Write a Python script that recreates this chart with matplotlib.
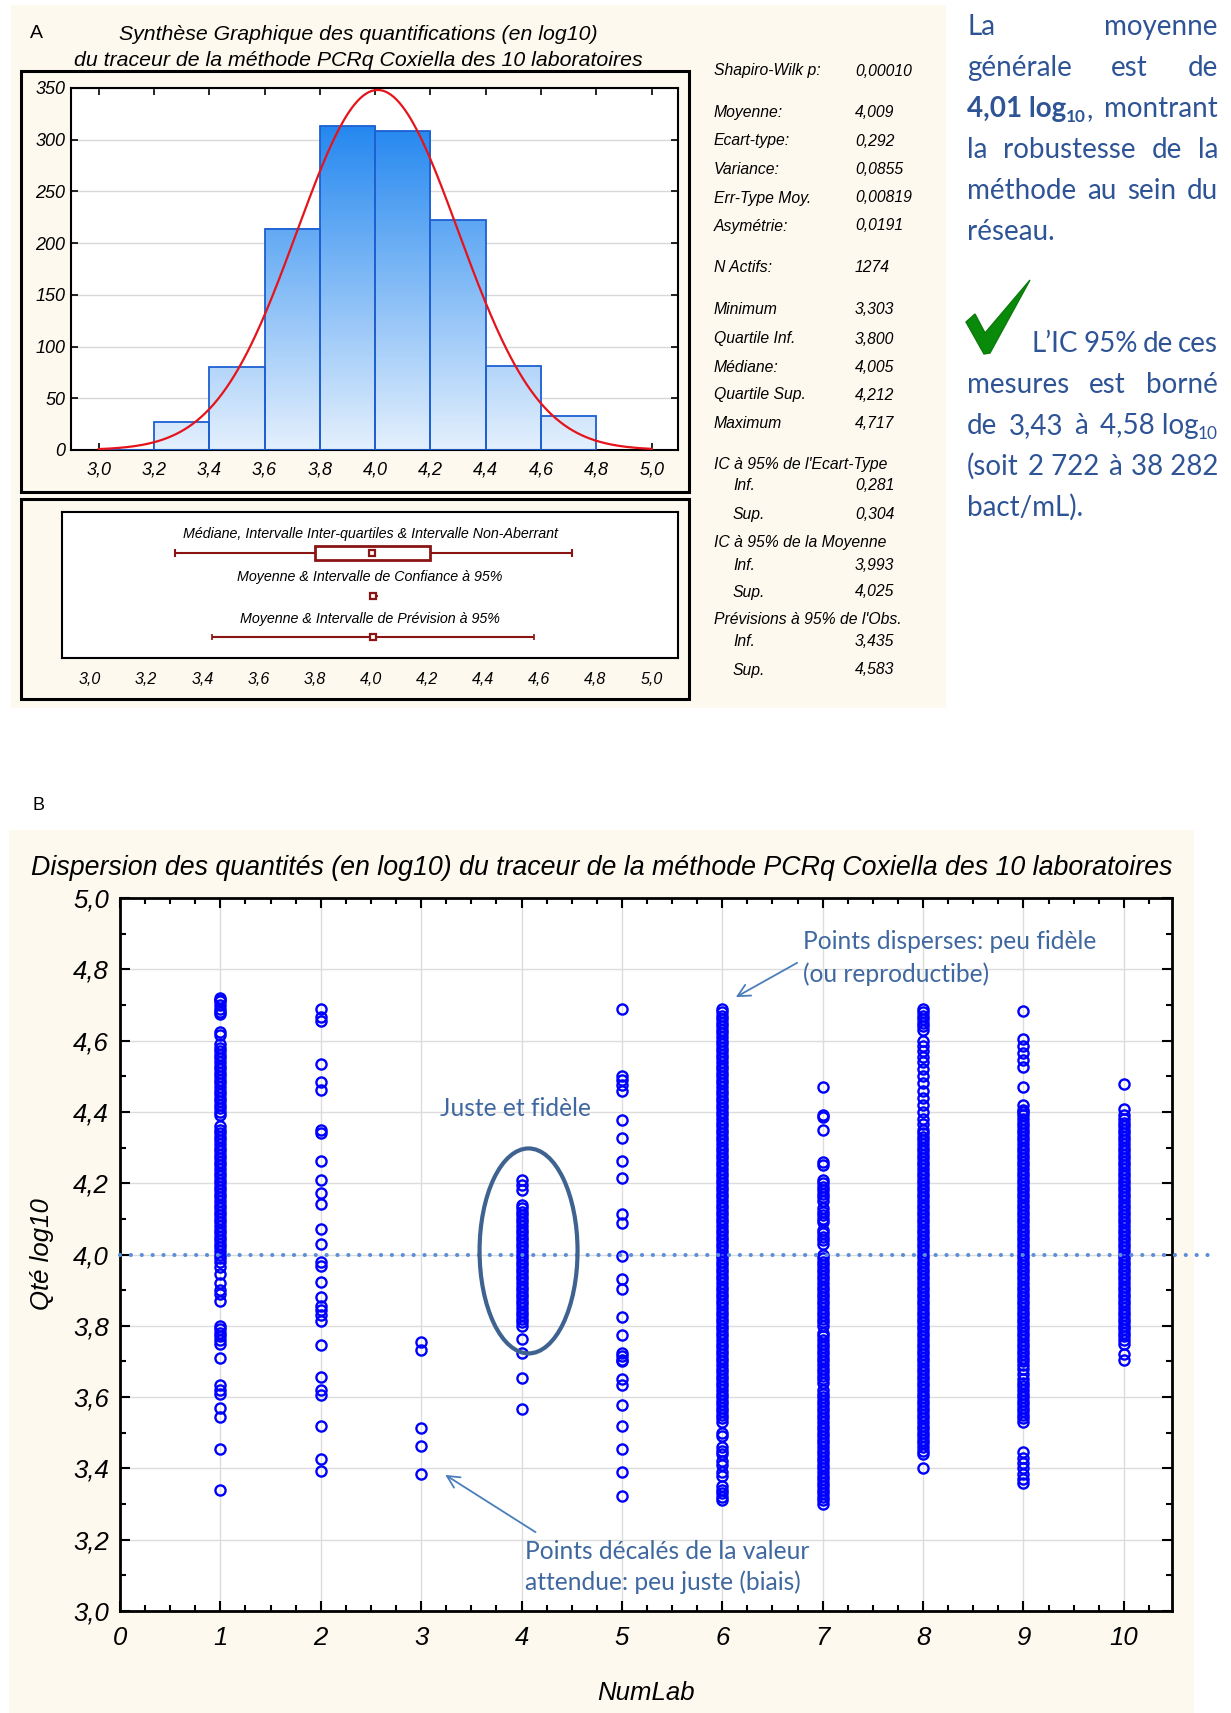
import numpy as np
import matplotlib
matplotlib.use("Agg")
import matplotlib.pyplot as plt
from matplotlib.patches import Rectangle, Ellipse, Polygon
from matplotlib.colors import LinearSegmentedColormap
from matplotlib.ticker import MultipleLocator

plt.rcParams['font.family'] = ['Liberation Sans', 'DejaVu Sans']

# ======================= DATA =======================
# Panel A - histogram
bin_left = [3.0, 3.2, 3.4, 3.6, 3.8, 4.0, 4.2, 4.4, 4.6]
bin_count = [0, 27, 80, 214, 313, 308, 222, 81, 33]
bin_width = 0.2
hist_xticks = [3.0, 3.2, 3.4, 3.6, 3.8, 4.0, 4.2, 4.4, 4.6, 4.8, 5.0]
hist_xlabels = ['3,0', '3,2', '3,4', '3,6', '3,8', '4,0', '4,2', '4,4', '4,6', '4,8', '5,0']
hist_yticks = [0, 50, 100, 150, 200, 250, 300, 350]
n_total = 1274
mean_all = 4.009
sd_all = 0.292

# Panel A - box summary
whisk_lo, q_inf, median, q_sup, whisk_hi = 3.303, 3.800, 4.005, 4.212, 4.717
ci_mean = (3.993, 4.025)
pi_obs = (3.435, 4.583)
box_titles = ['Médiane, Intervalle Inter-quartiles & Intervalle Non-Aberrant',
              'Moyenne & Intervalle de Confiance à 95%',
              'Moyenne & Intervalle de Prévision à 95%']

# Panel A - statistics
stat_labels = ['Shapiro-Wilk p:', 'Moyenne:', 'Ecart-type:', 'Variance:', 'Err-Type Moy.',
               'Asymétrie:', 'N Actifs:', 'Minimum', 'Quartile Inf.', 'Médiane:',
               'Quartile Sup.', 'Maximum', "IC à 95% de l'Ecart-Type", 'Inf.', 'Sup.',
               'IC à 95% de la Moyenne', 'Inf.', 'Sup.', "Prévisions à 95% de l'Obs.",
               'Inf.', 'Sup.']
stat_values = ['0,00010', '4,009', '0,292', '0,0855', '0,00819', '0,0191', '1274',
               '3,303', '3,800', '4,005', '4,212', '4,717', '', '0,281', '0,304',
               '', '3,993', '4,025', '', '3,435', '4,583']

# Panel B - scatter per laboratory
lab1 = [4.72, 4.715, 4.71, 4.70, 4.69, 4.68, 4.675, 4.625, 4.615,
        4.59, 4.58, 4.57, 4.56, 4.55, 4.54, 4.53, 4.52, 4.51, 4.50,
        4.49, 4.48, 4.47, 4.46, 4.45, 4.44, 4.43, 4.42, 4.41, 4.40, 4.39,
        4.36, 4.35, 4.34, 4.33, 4.32, 4.31, 4.30, 4.29, 4.28, 4.27,
        4.26, 4.25, 4.24, 4.23, 4.22, 4.21, 4.20, 4.19, 4.18, 4.17,
        4.16, 4.15, 4.14, 4.13, 4.12, 4.11, 4.10, 4.09, 4.08, 4.07,
        4.06, 4.05, 4.04, 4.03, 4.02, 4.01, 4.00, 3.99, 3.98, 3.965,
        3.945, 3.92, 3.90, 3.89, 3.87,
        3.80, 3.79, 3.78, 3.77, 3.76, 3.75, 3.71, 3.635, 3.62, 3.61,
        3.57, 3.545, 3.455, 3.34]
lab2 = [4.69, 4.665, 4.655, 4.533, 4.485, 4.462, 4.35, 4.34, 4.263, 4.208,
        4.172, 4.143, 4.072, 4.03, 3.978, 3.968, 3.923, 3.882, 3.855, 3.845,
        3.83, 3.813, 3.746, 3.655, 3.62, 3.605, 3.52, 3.427, 3.392]
lab3 = [3.755, 3.732, 3.512, 3.462, 3.385]
lab4 = [4.21, 4.195, 4.18, 4.14, 4.13, 4.12, 4.11, 4.10, 4.09, 4.08,
        4.07, 4.06, 4.05, 4.04, 4.03, 4.02, 4.01, 4.00, 3.99, 3.98,
        3.97, 3.96, 3.95, 3.94, 3.93, 3.92, 3.91, 3.90, 3.89, 3.88,
        3.87, 3.86, 3.85, 3.84, 3.83, 3.82, 3.81, 3.80, 3.762, 3.725,
        3.654, 3.568]
lab5 = [4.69, 4.50, 4.49, 4.475, 4.46, 4.377, 4.328, 4.263, 4.215, 4.115,
        4.088, 3.997, 3.93, 3.903, 3.825, 3.775, 3.725, 3.715, 3.705, 3.70,
        3.65, 3.635, 3.577, 3.52, 3.455, 3.39, 3.322]
lab6 = [4.69, 4.68, 4.67, 4.66, 4.65, 4.64, 4.63, 4.62, 4.61, 4.60,
        4.59, 4.58, 4.57, 4.56, 4.55, 4.54, 4.53, 4.52, 4.51, 4.50,
        4.49, 4.48, 4.47, 4.46, 4.45, 4.44, 4.43, 4.42, 4.41, 4.40,
        4.39, 4.38, 4.37, 4.36, 4.35, 4.34, 4.33, 4.32, 4.31, 4.30,
        4.29, 4.28, 4.27, 4.26, 4.25, 4.24, 4.23, 4.22, 4.21, 4.20,
        4.19, 4.18, 4.17, 4.16, 4.15, 4.14, 4.13, 4.12, 4.11, 4.10,
        4.09, 4.08, 4.07, 4.06, 4.05, 4.04, 4.03, 4.02, 4.01, 4.00,
        3.99, 3.98, 3.97, 3.96, 3.95, 3.94, 3.93, 3.92, 3.91, 3.90,
        3.89, 3.88, 3.87, 3.86, 3.85, 3.84, 3.83, 3.82, 3.81, 3.80,
        3.79, 3.78, 3.77, 3.76, 3.75, 3.74, 3.73, 3.72, 3.71, 3.70,
        3.69, 3.68, 3.67, 3.66, 3.65, 3.64, 3.63, 3.62, 3.61, 3.60,
        3.59, 3.58, 3.57, 3.56, 3.55, 3.54, 3.53,
        3.50, 3.49, 3.46, 3.45, 3.44, 3.42, 3.41, 3.39, 3.38, 3.35,
        3.34, 3.33, 3.32, 3.31]
lab7 = [4.47, 4.39, 4.385, 4.348, 4.26, 4.25, 4.21, 4.20, 4.19, 4.18,
        4.17, 4.16, 4.15, 4.13, 4.12, 4.11, 4.10, 4.09, 4.07, 4.06,
        4.05, 4.04, 4.03, 4.00, 3.99, 3.98, 3.97, 3.96, 3.95, 3.94,
        3.93, 3.92, 3.91, 3.90, 3.89, 3.88, 3.87, 3.86, 3.85, 3.84,
        3.83, 3.82, 3.81, 3.80, 3.78, 3.77, 3.76, 3.75, 3.74, 3.73,
        3.72, 3.71, 3.70, 3.69, 3.68, 3.67, 3.66, 3.65, 3.64, 3.62,
        3.61, 3.60, 3.59, 3.58, 3.57, 3.56, 3.55, 3.54, 3.53, 3.52,
        3.51, 3.50, 3.49, 3.48, 3.47, 3.46, 3.45, 3.44, 3.43, 3.42,
        3.41, 3.40, 3.39, 3.38, 3.37, 3.36, 3.35, 3.34, 3.33, 3.32,
        3.31, 3.30]
lab8 = [4.69, 4.68, 4.67, 4.66, 4.65, 4.64, 4.63, 4.60, 4.585, 4.57,
        4.555, 4.54, 4.52, 4.50, 4.48, 4.46, 4.44, 4.42, 4.40, 4.38,
        4.365, 4.35, 4.34, 4.33, 4.32, 4.31, 4.30, 4.29, 4.28, 4.27,
        4.26, 4.25, 4.24, 4.23, 4.22, 4.21, 4.20, 4.19, 4.18, 4.17,
        4.16, 4.15, 4.14, 4.13, 4.12, 4.11, 4.10, 4.09, 4.08, 4.07,
        4.06, 4.05, 4.04, 4.03, 4.02, 4.01, 4.00, 3.99, 3.98, 3.97,
        3.96, 3.95, 3.94, 3.93, 3.92, 3.91, 3.90, 3.89, 3.88, 3.87,
        3.86, 3.85, 3.84, 3.83, 3.82, 3.81, 3.80, 3.79, 3.78, 3.77,
        3.76, 3.75, 3.74, 3.73, 3.72, 3.71, 3.70, 3.69, 3.68, 3.67,
        3.66, 3.65, 3.64, 3.63, 3.62, 3.61, 3.60, 3.59, 3.58, 3.57,
        3.56, 3.55, 3.54, 3.53, 3.52, 3.51, 3.50, 3.49, 3.48, 3.47,
        3.46, 3.45, 3.44, 3.40]
lab9 = [4.682, 4.605, 4.585, 4.565, 4.545, 4.525, 4.47, 4.42, 4.405, 4.40,
        4.39, 4.38, 4.37, 4.36, 4.35, 4.34, 4.33, 4.32, 4.31, 4.30,
        4.29, 4.28, 4.27, 4.26, 4.25, 4.24, 4.23, 4.22, 4.21, 4.20,
        4.19, 4.18, 4.17, 4.16, 4.15, 4.14, 4.13, 4.12, 4.11, 4.10,
        4.09, 4.08, 4.07, 4.06, 4.05, 4.04, 4.03, 4.02, 4.01, 4.00,
        3.99, 3.98, 3.97, 3.96, 3.95, 3.94, 3.93, 3.92, 3.91, 3.90,
        3.89, 3.88, 3.87, 3.86, 3.85, 3.84, 3.83, 3.82, 3.81, 3.80,
        3.79, 3.78, 3.77, 3.76, 3.75, 3.74, 3.73, 3.72, 3.71, 3.70,
        3.69, 3.68, 3.665, 3.65, 3.64, 3.63, 3.62, 3.61, 3.60, 3.59,
        3.58, 3.57, 3.56, 3.55, 3.54, 3.53,
        3.445, 3.43, 3.415, 3.40, 3.385, 3.37, 3.36]
lab10 = [4.477, 4.407, 4.39, 4.38, 4.37, 4.36, 4.35, 4.34, 4.33, 4.32,
         4.31, 4.30, 4.29, 4.28, 4.27, 4.26, 4.25, 4.24, 4.23, 4.22,
         4.21, 4.20, 4.19, 4.18, 4.17, 4.16, 4.15, 4.14, 4.13, 4.12,
         4.11, 4.10, 4.09, 4.08, 4.07, 4.06, 4.05, 4.04, 4.03, 4.02,
         4.01, 4.00, 3.99, 3.98, 3.97, 3.96, 3.95, 3.94, 3.93, 3.92,
         3.91, 3.90, 3.89, 3.88, 3.87, 3.86, 3.85, 3.84, 3.83, 3.82,
         3.81, 3.80, 3.79, 3.78, 3.77, 3.76, 3.75, 3.72, 3.705]
labs = [lab1, lab2, lab3, lab4, lab5, lab6, lab7, lab8, lab9, lab10]
lab_ticks = [0, 1, 2, 3, 4, 5, 6, 7, 8, 9, 10]
qty_ticks = [3.0, 3.2, 3.4, 3.6, 3.8, 4.0, 4.2, 4.4, 4.6, 4.8, 5.0]
qty_labels = ['3,0', '3,2', '3,4', '3,6', '3,8', '4,0', '4,2', '4,4', '4,6', '4,8', '5,0']
reference_level = 4.0

# Right-hand commentary (tokens: (text, weight, subscript))
para1 = [
    [[('La', 'normal', False)], [('moyenne', 'normal', False)]],
    [[('générale', 'normal', False)], [('est', 'normal', False)], [('de', 'normal', False)]],
    [[('4,01 log', 'bold', False), ('10', 'bold', True), (',', 'normal', False)],
     [('montrant', 'normal', False)]],
    [[('la', 'normal', False)], [('robustesse', 'normal', False)], [('de', 'normal', False)],
     [('la', 'normal', False)]],
    [[('méthode', 'normal', False)], [('au', 'normal', False)], [('sein', 'normal', False)],
     [('du', 'normal', False)]],
    [[('réseau.', 'normal', False)]],
]
para2 = [
    [[('L’IC', 'normal', False)], [('95%', 'normal', False)], [('de', 'normal', False)],
     [('ces', 'normal', False)]],
    [[('mesures', 'normal', False)], [('est', 'normal', False)], [('borné', 'normal', False)]],
    [[('de', 'normal', False)], [('3,43', 'normal', False)], [('à', 'normal', False)],
     [('4,58 log', 'normal', False), ('10', 'normal', True)]],
    [[('(soit', 'normal', False)], [('2 722', 'normal', False)], [('à', 'normal', False)],
     [('38 282', 'normal', False)]],
    [[('bact/mL).', 'normal', False)]],
]

# ======================= FIGURE =======================
W, H = 1231, 1713
CREAM = '#FDF9EE'
fig = plt.figure(figsize=(W / 100, H / 100), dpi=100)
bg = fig.add_axes([0, 0, 1, 1], zorder=0)
bg.set_xlim(0, W)
bg.set_ylim(H, 0)
bg.axis('off')


def add_ax(x0, y0, x1, y1, z=2):
    return fig.add_axes([x0 / W, 1 - y1 / H, (x1 - x0) / W, (y1 - y0) / H], zorder=z)


# backgrounds / frames
bg.add_patch(Rectangle((11, 5), 935, 703, fc=CREAM, ec='none'))
bg.add_patch(Rectangle((21, 71), 668, 421, fc='none', ec='black', lw=2.2))
bg.add_patch(Rectangle((21, 499), 668, 200, fc='none', ec='black', lw=2.2))
bg.add_patch(Rectangle((9, 830), 1185, 883, fc=CREAM, ec='none'))

bg.text(36, 34, 'A', fontsize=14, ha='center', va='center')
bg.text(38, 805, 'B', fontsize=13, ha='center', va='center')
bg.text(358, 35, 'Synthèse Graphique des quantifications (en log10)', fontsize=15.3,
        style='italic', ha='center', va='center')
bg.text(358, 60, 'du traceur de la méthode PCRq Coxiella des 10 laboratoires', fontsize=15.3,
        style='italic', ha='center', va='center')

# ---------- histogram ----------
axh = add_ax(71, 88, 678, 450)
cmap = LinearSegmentedColormap.from_list('hist', ['#E4F0FD', '#0F7CEE'])
for left, cnt in zip(bin_left, bin_count):
    if cnt > 0:
        grad = np.linspace(0, cnt / 350.0, 256).reshape(-1, 1)
        axh.imshow(grad, cmap=cmap, vmin=0, vmax=1, origin='lower', aspect='auto',
                   extent=(left, left + bin_width, 0, cnt), zorder=2, interpolation='bilinear')
axh.bar(bin_left, bin_count, width=bin_width, align='edge', fill=False,
        edgecolor='#1E5FD2', linewidth=1.3, zorder=3)
xs = np.linspace(3.0, 5.0, 400)
curve = n_total * bin_width * np.exp(-0.5 * ((xs - mean_all) / sd_all) ** 2) / (sd_all * np.sqrt(2 * np.pi))
axh.plot(xs, curve, color='#E5141B', lw=1.6, zorder=4)
axh.set_xlim(2.9, 5.095)
axh.set_ylim(0, 350)
axh.set_xticks(hist_xticks)
axh.set_xticklabels(hist_xlabels)
axh.set_yticks(hist_yticks)
axh.set_yticklabels([str(v) for v in hist_yticks])
axh.tick_params(direction='in', top=True, right=True, length=5, width=1.2, labelsize=13)
axh.tick_params(axis='x', pad=8)
axh.tick_params(axis='y', pad=4)
for lab in axh.get_xticklabels() + axh.get_yticklabels():
    lab.set_fontstyle('italic')
axh.grid(axis='y', color='#D8D8D8', lw=1)
axh.set_axisbelow(True)
for s in axh.spines.values():
    s.set_linewidth(1.5)

# ---------- box summary ----------
DR = '#8B1515'
axb = add_ax(62, 512, 678, 658)
axb.set_xlim(2.9, 5.095)
axb.set_ylim(0, 1)
yb1, yb2, yb3 = 0.719, 0.425, 0.144
axb.hlines(yb1, whisk_lo, q_inf, color=DR, lw=1.5)
axb.hlines(yb1, q_sup, whisk_hi, color=DR, lw=1.5)
axb.vlines([whisk_lo, whisk_hi], yb1 - 0.03, yb1 + 0.03, color=DR, lw=1.5)
axb.add_patch(Rectangle((q_inf, yb1 - 0.05), q_sup - q_inf, 0.1, fc='white', ec=DR, lw=2))
axb.plot(median, yb1, marker='s', ms=5, mfc='white', mec=DR, mew=1.6)
axb.hlines(yb2, ci_mean[0], ci_mean[1], color=DR, lw=1.5)
axb.plot(mean_all, yb2, marker='s', ms=5, mfc='white', mec=DR, mew=1.6)
axb.hlines(yb3, pi_obs[0], pi_obs[1], color=DR, lw=1.5)
axb.vlines(list(pi_obs), yb3 - 0.02, yb3 + 0.02, color=DR, lw=1.2)
axb.plot(mean_all, yb3, marker='s', ms=5, mfc='white', mec=DR, mew=1.6)
for yy, t in zip([0.849, 0.555, 0.267], box_titles):
    axb.text(0.5, yy, t, transform=axb.transAxes, ha='center', va='center',
             fontsize=10.3, style='italic')
axb.set_yticks([])
axb.set_xticks(hist_xticks)
axb.set_xticklabels(hist_xlabels)
axb.tick_params(axis='x', length=0, labelsize=11.5, pad=10)
for lab in axb.get_xticklabels():
    lab.set_fontstyle('italic')
for s in axb.spines.values():
    s.set_linewidth(1.5)

# ---------- statistics text ----------
stat_rows = [71, 112.5, 141, 169, 198, 226, 268, 310, 339, 367, 395, 423,
             465, 486, 514.5, 543, 565, 592, 620, 641, 670]
for lbl, val, yy in zip(stat_labels, stat_values, stat_rows):
    xl = 733 if lbl in ('Inf.', 'Sup.') else 714
    bg.text(xl, yy, lbl, fontsize=11.3, style='italic', ha='left', va='center')
    if val:
        bg.text(855, yy, val, fontsize=11.3, style='italic', ha='left', va='center')

# ---------- right commentary ----------
RFONT = 'Lato'
RCOL = '#2E5496'
RSIZE = 20
renderer = fig.canvas.get_renderer()


def seg_w(txt, weight, size):
    t = bg.text(0, 0, txt, fontsize=size, fontweight=weight, family=RFONT)
    w = t.get_window_extent(renderer).width
    t.remove()
    return w


def draw_line(tokens, x0, x1, yb, justify=True):
    widths = []
    for tok in tokens:
        widths.append(sum(seg_w(tx, wt, RSIZE * 0.62 if sb else RSIZE) for tx, wt, sb in tok))
    if justify and len(tokens) > 1:
        gap = (x1 - x0 - sum(widths)) / (len(tokens) - 1)
    else:
        gap = 6
    x = x0
    for tok in tokens:
        for tx, wt, sb in tok:
            size = RSIZE * 0.62 if sb else RSIZE
            bg.text(x, yb + (5 if sb else 0), tx, fontsize=size, fontweight=wt,
                    family=RFONT, color=RCOL, ha='left', va='baseline')
            x += seg_w(tx, wt, size)
        x += gap


p1_base = [35, 76, 117, 158, 199, 240]
for i, (line, yb) in enumerate(zip(para1, p1_base)):
    draw_line(line, 967, 1218, yb, justify=(i < len(para1) - 1))
p2_base = [352, 393, 434, 475, 516]
for i, (line, yb) in enumerate(zip(para2, p2_base)):
    x0 = 1032 if i == 0 else 967
    draw_line(line, x0, 1218, yb, justify=(i < len(para2) - 1))
check = [(966, 322), (975, 314), (985, 333), (1030, 280), (990, 353), (984, 354)]
bg.add_patch(Polygon(check, closed=True, fc='#0A8A0A', ec='#0A7A0A', lw=1))

# ---------- Panel B ----------
bg.text(602, 868, 'Dispersion des quantités (en log10) du traceur de la méthode PCRq Coxiella des 10 laboratoires',
        fontsize=19.3, style='italic', ha='center', va='center')
axs = add_ax(120, 898, 1172, 1611)
for k, vals in enumerate(labs, start=1):
    axs.plot([k] * len(vals), vals, linestyle='none', marker='o', ms=7.3,
             mfc='none', mec='#0000FF', mew=1.7, zorder=3)
axs.plot([0, 10.92], [reference_level, reference_level], color='#5B8FD9', lw=3,
         ls=(0, (0.01, 2.6)), dash_capstyle='round', clip_on=False, zorder=4)
axs.set_xlim(0, 10.48)
axs.set_ylim(3.0, 5.0)
axs.set_xticks(lab_ticks)
axs.set_xticklabels([str(v) for v in lab_ticks])
axs.set_yticks(qty_ticks)
axs.set_yticklabels(qty_labels)
axs.xaxis.set_minor_locator(MultipleLocator(0.25))
axs.yaxis.set_minor_locator(MultipleLocator(0.1))
axs.tick_params(which='both', direction='in', top=True, right=True, width=1.5)
axs.tick_params(which='major', length=7, labelsize=18.5)
axs.tick_params(which='minor', length=4)
axs.tick_params(axis='x', which='major', pad=11)
axs.tick_params(axis='y', which='major', pad=8)
for lab in axs.get_xticklabels() + axs.get_yticklabels():
    lab.set_fontstyle('italic')
axs.grid(which='major', color='#DCDCDC', lw=1)
axs.set_axisbelow(True)
for s in axs.spines.values():
    s.set_linewidth(2)
axs.set_xlabel('NumLab', fontsize=18.5, style='italic', labelpad=22)
axs.set_ylabel('Qté log10', fontsize=18.5, style='italic', labelpad=14)

ACOL = '#3F68A0'
AFS = 17.7
axs.text(6.80, 4.877, 'Points disperses: peu fidèle', family='Lato', fontsize=AFS, color=ACOL,
         ha='left', va='center')
axs.text(6.80, 4.786, '(ou reproductibe)', family='Lato', fontsize=AFS, color=ACOL,
         ha='left', va='center')
axs.text(3.935, 4.409, 'Juste et fidèle', family='Lato', fontsize=AFS, color=ACOL,
         ha='center', va='center')
axs.text(4.033, 3.168, 'Points décalés de la valeur', family='Lato', fontsize=AFS, color=ACOL,
         ha='left', va='center')
axs.text(4.033, 3.080, 'attendue: peu juste (biais)', family='Lato', fontsize=AFS, color=ACOL,
         ha='left', va='center')
axs.annotate('', xy=(6.11, 4.718), xytext=(6.77, 4.822),
             arrowprops=dict(arrowstyle='->', color='#4A7EBB', lw=1.3, mutation_scale=22))
axs.annotate('', xy=(3.217, 3.386), xytext=(4.163, 3.217),
             arrowprops=dict(arrowstyle='->', color='#4A7EBB', lw=1.3, mutation_scale=22))
axs.add_patch(Ellipse((4.07, 4.01), 0.976, 0.575, fc='none', ec='#3E6390', lw=3, zorder=5))

fig.savefig('out.png', dpi=100)
